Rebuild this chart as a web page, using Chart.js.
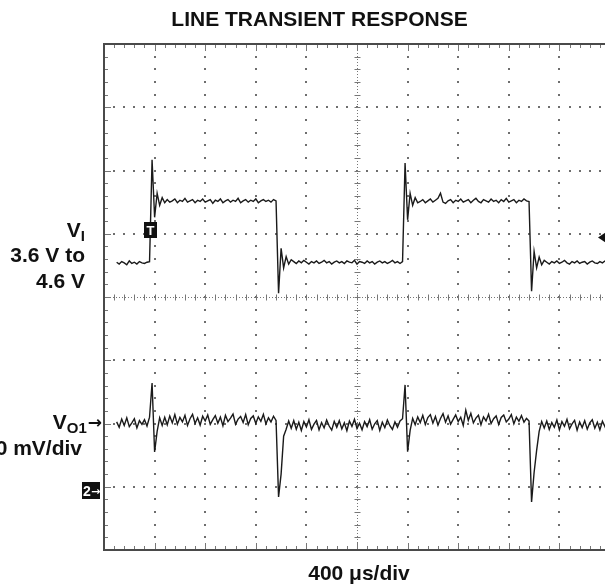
<!DOCTYPE html>
<html><head><meta charset="utf-8">
<script src="https://cdn.jsdelivr.net/npm/chart.js@4/dist/chart.umd.min.js"></script>
<style>
html,body{margin:0;padding:0;background:#fff;overflow:hidden;}
#wrap{position:relative;width:605px;height:588px;overflow:hidden;font-family:"Liberation Sans",Arial,Helvetica,sans-serif;font-weight:bold;color:#111;}
#c{position:absolute;left:0;top:0;}
.lbl{position:absolute;font-size:21px;line-height:21px;white-space:nowrap;}
.sub{font-size:15px;position:relative;top:4px;line-height:0;}
.arr{font-size:17px;line-height:0;font-family:"DejaVu Sans",sans-serif;font-weight:bold;position:relative;top:-1px;margin-left:1px;}
</style></head><body>
<div id="wrap">
<canvas id="c" width="612" height="588" style="width:612px;height:588px"></canvas>
<div class="lbl" style="left:0;width:639px;text-align:center;top:8px">LINE TRANSIENT RESPONSE</div>
<div class="lbl" style="left:159px;width:400px;text-align:center;top:562px">400 μs/div</div>
<div class="lbl" style="right:520px;text-align:right;top:219px">V<span class="sub">I</span></div>
<div class="lbl" style="right:520px;text-align:right;top:244px">3.6 V to</div>
<div class="lbl" style="right:520px;text-align:right;top:269.5px">4.6 V</div>
<div class="lbl" style="right:503px;text-align:right;top:410.5px">V<span class="sub">O1</span><span class="arr">→</span></div>
<div class="lbl" style="right:523px;text-align:right;top:437px">0 mV/div</div>
</div>
<script>
// ---- sampled data (oscilloscope record) ----
const sampleStartUs = 100;   // first sample time, µs
const sampleStepUs = 20;     // sample interval, µs
// Channel 1: input voltage VI (V)
const vinVolts = [
  3.61,3.58,3.62,3.60,3.57,3.63,3.59,3.61,3.58,3.62,3.60,3.59,3.61,
  3.62,5.23,4.32,4.70,4.51,4.63,4.55,
  4.60,4.56,4.58,4.61,4.55,4.59,4.57,4.62,4.56,4.58,
  4.60,4.55,4.59,4.57,4.61,4.56,4.58,4.60,4.54,4.59,
  4.57,4.61,4.55,4.58,4.60,4.56,4.59,4.57,4.62,4.55,
  4.58,4.60,4.56,4.59,4.57,4.61,4.55,4.58,4.60,4.57,
  4.59,4.56,4.60,
  4.58,3.12,3.83,3.52,3.70,3.58,3.65,
  3.62,3.59,3.63,3.60,3.64,3.61,3.58,3.62,3.60,3.63,
  3.59,3.61,3.64,3.60,3.62,3.58,3.61,3.63,3.60,3.62,
  3.59,3.63,3.61,3.60,3.64,3.58,3.62,3.61,3.59,3.63,
  3.60,3.62,3.58,3.61,3.63,3.60,3.62,3.59,3.61,3.64,
  3.60,3.62,3.59,
  3.62,5.18,4.28,4.70,4.51,4.63,4.55,
  4.57,4.60,4.55,4.58,4.61,4.56,4.59,4.62,4.70,4.56,
  4.54,4.58,4.60,4.55,4.59,4.57,4.61,4.56,4.58,4.60,
  4.55,4.59,4.62,4.57,4.55,4.60,4.58,4.56,4.61,4.57,
  4.59,4.55,4.60,4.57,4.62,4.56,4.58,4.60,4.55,4.59,
  4.57,4.61,4.58,
  4.57,3.15,3.78,3.52,3.69,3.57,3.64,
  3.61,3.58,3.62,3.60,3.63,3.59,3.61,3.64,3.60,3.58,
  3.62,3.60,3.63,3.59,3.61,3.62,3.58,3.61,3.63,3.60,
  3.59,3.62,3.60,3.63,3.61,3.59
];
// Channel 2: output VO1, AC deviation (mV)
const vo1MilliVolts = [
  0.5,-1.2,1.4,-0.6,1.8,-1.0,0.2,1.5,-1.4,0.9,-0.3,1.2,-0.8,
  2.0,12.8,-9.0,-2.5,1.8,-0.6,2.0,
  -0.4,2.4,0.2,2.8,-0.2,1.9,0.5,2.6,-0.6,1.5,
  2.9,0.0,1.8,-0.5,2.3,0.8,2.7,-0.3,1.2,2.5,
  0.1,2.0,-0.7,2.6,0.6,1.7,3.0,-0.2,1.4,2.2,
  0.3,2.8,-0.4,1.6,2.4,0.0,2.1,0.7,2.9,-0.1,
  1.8,0.5,2.3,
  1.0,-23.2,-16.0,-4.0,-1.8,0.8,-1.5,
  0.9,-1.8,0.4,-2.2,0.6,-1.1,1.2,-1.9,-0.2,1.0,
  -2.0,0.3,-1.4,1.1,-0.8,-2.1,0.7,-1.2,0.9,-1.7,
  0.2,-2.3,0.8,-0.9,1.3,-1.6,0.1,-2.0,0.6,-1.0,
  1.2,-1.8,-0.1,0.9,-2.2,0.4,-1.3,1.1,-0.7,-1.9,
  0.5,-1.2,0.8,
  1.5,12.2,-8.9,-2.2,1.6,-0.4,2.1,
  0.3,2.6,-0.3,1.9,2.8,0.1,2.2,-0.5,1.6,3.1,
  0.4,2.4,-0.2,1.3,2.7,0.6,2.0,-0.6,4.2,1.0,
  3.2,0.2,1.7,2.6,-0.4,2.1,0.8,2.9,0.0,1.5,
  2.4,-0.3,1.9,2.7,0.5,1.4,2.8,-0.1,2.0,0.7,
  2.5,0.4,1.6,
  0.8,-24.8,-15.5,-8.5,-2.5,0.6,-1.4,
  0.8,-1.9,0.3,-1.2,1.1,-2.0,0.6,-0.9,1.3,-1.7,
  -0.1,1.0,-2.1,0.5,-1.3,0.9,-1.8,0.2,1.2,-1.5,
  0.4,-2.0,0.7,-1.0,1.1,-1.6
];
// Graticule / scope settings
const timeRangeUs = [0, 4000];      // 10 div × 400 µs
const usPerDiv = 400;
const divRange = [-4, 4];           // 8 vertical divisions
const ch1RangeV = [-0.94, 7.06];    // 1 V/div, offset
const ch2RangeMv = [-40, 120];      // 20 mV/div
const triggerTimeUs = 366;
const triggerLevelV = 4.0;
const ch2GroundMv = -21.5;

const toPoints = arr => arr.map((v, i) => ({x: sampleStartUs + i * sampleStepUs, y: v}));

const scopeGrid = {
  id: 'scopeGrid',
  beforeDatasetsDraw(chart) {
    const ctx = chart.ctx, xs = chart.scales.x, yd = chart.scales.yDiv;
    const L = xs.getPixelForValue(timeRangeUs[0]), R = xs.getPixelForValue(timeRangeUs[1]);
    const T = yd.getPixelForValue(divRange[1]), B = yd.getPixelForValue(divRange[0]);
    const nX = (timeRangeUs[1] - timeRangeUs[0]) / usPerDiv;
    const nY = divRange[1] - divRange[0];
    ctx.save();
    ctx.fillStyle = '#6e6e6e';
    const dot = (x, y) => ctx.fillRect(Math.round(x) - 1, Math.round(y) - 1, 2, 2);
    for (let k = 1; k < nX; k++) {
      if (k === nX / 2) continue;
      const x = xs.getPixelForValue(k * usPerDiv);
      for (let m = 1; m < nY * 5; m++) dot(x, yd.getPixelForValue(divRange[0] + m * 0.2));
    }
    for (let d = divRange[0] + 1; d < divRange[1]; d++) {
      if (d === 0) continue;
      const y = yd.getPixelForValue(d);
      for (let m = 1; m < nX * 5; m++) dot(xs.getPixelForValue(m * usPerDiv / 5), y);
    }
    ctx.strokeStyle = '#777';
    ctx.lineWidth = 1;
    const cx = Math.round(xs.getPixelForValue(nX / 2 * usPerDiv)) + 0.5;
    const cy = Math.round(yd.getPixelForValue(0)) + 0.5;
    ctx.setLineDash([1, 2]);
    ctx.beginPath(); ctx.moveTo(cx, T); ctx.lineTo(cx, B); ctx.moveTo(L, cy); ctx.lineTo(R, cy); ctx.stroke();
    ctx.setLineDash([]);
    ctx.beginPath();
    for (let m = 1; m < nY * 5; m++) {
      const y = Math.round(yd.getPixelForValue(divRange[0] + m * 0.2)) + 0.5;
      ctx.moveTo(cx - 3, y); ctx.lineTo(cx + 3, y);
      ctx.moveTo(L, y); ctx.lineTo(L + (m % 5 === 0 ? 7 : 4), y);
    }
    for (let m = 1; m < nX * 5; m++) {
      const x = Math.round(xs.getPixelForValue(m * usPerDiv / 5)) + 0.5;
      ctx.moveTo(x, cy - 3); ctx.lineTo(x, cy + 3);
      const len = m % 5 === 0 ? 7 : 4;
      ctx.moveTo(x, T); ctx.lineTo(x, T + len);
      ctx.moveTo(x, B); ctx.lineTo(x, B - len);
    }
    ctx.stroke();
    ctx.strokeStyle = '#4a4a4a';
    ctx.lineWidth = 2;
    ctx.strokeRect(L, T, R - L, B - T);
    ctx.restore();
  },
  afterDatasetsDraw(chart) {
    const ctx = chart.ctx, xs = chart.scales.x, yV = chart.scales.yV, yM = chart.scales.yMV;
    const area = chart.chartArea;
    ctx.save();
    ctx.fillStyle = '#111';
    const ty = yV.getPixelForValue(triggerLevelV);
    ctx.beginPath();
    ctx.moveTo(area.right - 12, ty); ctx.lineTo(area.right - 3, ty - 6); ctx.lineTo(area.right - 3, ty + 6); ctx.closePath(); ctx.fill();
    const tx = xs.getPixelForValue(triggerTimeUs);
    ctx.fillRect(Math.round(tx) - 6, Math.round(ty) - 16, 13, 16);
    ctx.fillStyle = '#fff';
    ctx.font = 'bold 13px "Liberation Sans", Arial, sans-serif';
    ctx.textAlign = 'center';
    ctx.textBaseline = 'alphabetic';
    ctx.fillText('T', Math.round(tx) + 0.5, Math.round(ty) - 3);
    const gy = yM.getPixelForValue(ch2GroundMv);
    ctx.fillStyle = '#111';
    ctx.fillRect(area.left - 22, Math.round(gy) - 9, 18, 17);
    ctx.fillStyle = '#fff';
    ctx.textAlign = 'left';
    ctx.font = 'bold 14px "Liberation Sans", Arial, sans-serif';
    ctx.fillText('2', area.left - 21, Math.round(gy) + 5);
    ctx.font = 'bold 11px "DejaVu Sans", sans-serif';
    ctx.fillText('→', area.left - 13, Math.round(gy) + 4);
    ctx.restore();
  }
};

new Chart(document.getElementById('c'), {
  type: 'line',
  data: {
    datasets: [
      {label: 'VI', data: toPoints(vinVolts), yAxisID: 'yV', borderColor: '#1a1a1a', borderWidth: 1.4, pointRadius: 0, tension: 0},
      {label: 'VO1', data: toPoints(vo1MilliVolts), yAxisID: 'yMV', borderColor: '#1a1a1a', borderWidth: 1.4, pointRadius: 0, tension: 0}
    ]
  },
  options: {
    responsive: false,
    devicePixelRatio: 1,
    animation: false,
    events: [],
    layout: {padding: {left: 104, top: 44, right: 2, bottom: 38}},
    plugins: {legend: {display: false}, tooltip: {enabled: false}, title: {display: false}},
    scales: {
      x: {type: 'linear', min: timeRangeUs[0], max: timeRangeUs[1], display: false},
      yDiv: {type: 'linear', min: divRange[0], max: divRange[1], display: false},
      yV: {type: 'linear', min: ch1RangeV[0], max: ch1RangeV[1], display: false},
      yMV: {type: 'linear', min: ch2RangeMv[0], max: ch2RangeMv[1], display: false}
    }
  },
  plugins: [scopeGrid]
});
</script>
</body></html>
